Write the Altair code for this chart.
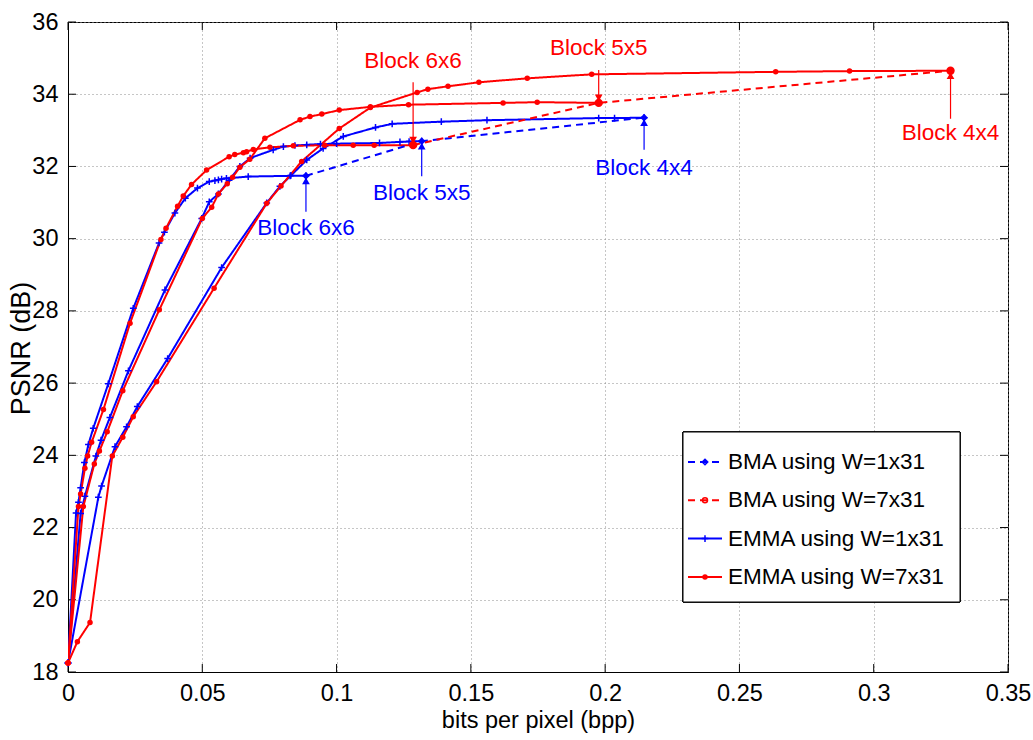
import altair as alt
import pandas as pd

FONT = "Liberation Sans, Arial, Helvetica"
BLUE = "#0000ff"
RED = "#ff0000"

S_BMA1 = "BMA using W=1x31"
S_BMA7 = "BMA using W=7x31"
S_EMMA1 = "EMMA using W=1x31"
S_EMMA7 = "EMMA using W=7x31"
SERIES = [S_BMA1, S_BMA7, S_EMMA1, S_EMMA7]

x_ticks = [0, 0.05, 0.1, 0.15, 0.2, 0.25, 0.3, 0.35]
y_ticks = [18, 20, 22, 24, 26, 28, 30, 32, 34, 36]

# EMMA, window 1x31
emma1_6x6_bpp = [0, 0.0030, 0.0039, 0.0047, 0.0061, 0.0076, 0.0094, 0.0150, 0.0243, 0.0339, 0.0359,
                 0.0398, 0.0437, 0.0482, 0.0526, 0.0547, 0.0560, 0.0572, 0.0590, 0.0671, 0.0827, 0.0886]
emma1_6x6_psnr = [18.25, 22.40, 22.70, 23.10, 23.80, 24.30, 24.75, 25.98, 28.07, 29.88, 30.18,
                  30.71, 31.12, 31.40, 31.58, 31.61, 31.63, 31.65, 31.67, 31.72, 31.74, 31.74]

emma1_5x5_bpp = [0, 0.0047, 0.0063, 0.0104, 0.0123, 0.0156, 0.0225, 0.0361, 0.0498, 0.0526, 0.0560, 0.0600,
                 0.0640, 0.0678, 0.0764, 0.0802, 0.0845, 0.0889, 0.0940, 0.1000, 0.1160, 0.1236, 0.1270, 0.1317]
emma1_5x5_psnr = [18.25, 22.39, 22.87, 23.98, 24.42, 25.05, 26.34, 28.58, 30.56, 31.02, 31.24, 31.62,
                  32.00, 32.23, 32.46, 32.55, 32.58, 32.60, 32.62, 32.63, 32.65, 32.68, 32.69, 32.70]

emma1_4x4_bpp = [0, 0.0113, 0.0125, 0.0175, 0.0218, 0.0258, 0.0371, 0.0572, 0.0740, 0.0789, 0.0830,
                 0.0889, 0.0950, 0.1025, 0.1145, 0.1207, 0.1390, 0.1560, 0.1976, 0.2035, 0.2145]
emma1_4x4_psnr = [18.25, 22.84, 23.15, 24.24, 24.79, 25.35, 26.68, 29.20, 30.99, 31.45, 31.75,
                  32.18, 32.50, 32.83, 33.08, 33.18, 33.24, 33.28, 33.34, 33.34, 33.35]

# EMMA, window 7x31
emma7_6x6_bpp = [0, 0.0039, 0.0047, 0.0063, 0.0073, 0.0088, 0.0132, 0.0231, 0.0346, 0.0365, 0.0408, 0.0429,
                 0.0460, 0.0516, 0.0600, 0.0621, 0.0653, 0.0665, 0.0690, 0.0752, 0.0839, 0.0956, 0.1062,
                 0.1140, 0.1285]
emma7_6x6_psnr = [18.25, 22.58, 22.93, 23.64, 23.98, 24.36, 25.27, 27.66, 29.98, 30.29, 30.90, 31.18,
                  31.50, 31.90, 32.27, 32.33, 32.38, 32.41, 32.47, 32.53, 32.57, 32.59, 32.59,
                  32.59, 32.59]

emma7_5x5_bpp = [0, 0.0057, 0.0098, 0.0117, 0.0146, 0.0204, 0.0340, 0.0500, 0.0535, 0.0560, 0.0593, 0.0613,
                 0.0640, 0.0677, 0.0733, 0.0864, 0.0901, 0.0945, 0.1010, 0.1126, 0.1268, 0.1620, 0.1747, 0.1976]
emma7_5x5_psnr = [18.25, 22.58, 23.76, 24.12, 24.65, 25.79, 28.03, 30.56, 30.87, 31.24, 31.52, 31.70,
                  31.98, 32.20, 32.78, 33.29, 33.38, 33.45, 33.56, 33.65, 33.71, 33.76, 33.78, 33.76]

emma7_4x4_bpp = [0, 0.0035, 0.0082, 0.0165, 0.0204, 0.0243, 0.0330, 0.0544, 0.0740, 0.0793, 0.0870,
                 0.1010, 0.1126, 0.1300, 0.1340, 0.1415, 0.1530, 0.1710, 0.1950, 0.2635, 0.2910, 0.3286]
emma7_4x4_psnr = [18.25, 18.84, 19.37, 23.98, 24.50, 25.07, 26.04, 28.63, 30.98, 31.46, 32.14,
                  33.05, 33.63, 34.05, 34.14, 34.22, 34.33, 34.44, 34.55, 34.62, 34.64, 34.65]

# BMA, one point per block size (6x6, 5x5, 4x4)
block_labels = ["Block 6x6", "Block 5x5", "Block 4x4"]
bma1_bpp = [0.0886, 0.1317, 0.2145]
bma1_psnr = [31.74, 32.70, 33.35]
bma7_bpp = [0.1285, 0.1976, 0.3286]
bma7_psnr = [32.59, 33.76, 34.65]

W, H = 940, 650
X_DOM = [0, 0.35]
Y_DOM = [18, 36]
PX_PER_DB = H / (Y_DOM[1] - Y_DOM[0])

curves = [
    (S_EMMA1, "e1_6", emma1_6x6_bpp, emma1_6x6_psnr),
    (S_EMMA1, "e1_5", emma1_5x5_bpp, emma1_5x5_psnr),
    (S_EMMA1, "e1_4", emma1_4x4_bpp, emma1_4x4_psnr),
    (S_EMMA7, "e7_6", emma7_6x6_bpp, emma7_6x6_psnr),
    (S_EMMA7, "e7_5", emma7_5x5_bpp, emma7_5x5_psnr),
    (S_EMMA7, "e7_4", emma7_4x4_bpp, emma7_4x4_psnr),
    (S_BMA1, "b1", bma1_bpp, bma1_psnr),
    (S_BMA7, "b7", bma7_bpp, bma7_psnr),
]
rows = []
for series, cid, xs, ys in curves:
    for i, (bx, py) in enumerate(zip(xs, ys)):
        rows.append({"series": series, "curve": cid, "idx": i, "bpp": bx, "psnr": py})
df = pd.DataFrame(rows)

# annotation layout: (text offset, arrow tail offset) in pixels below the point
ann_offsets = {
    ("b1", 0): (52, 36), ("b1", 1): (52, 35), ("b1", 2): (50, 32),
    ("b7", 0): (-84, -63), ("b7", 1): (-55, -33), ("b7", 2): (62, 48),
}
ann_rows = []
for cid, color, xs, ys in [("b1", BLUE, bma1_bpp, bma1_psnr), ("b7", RED, bma7_bpp, bma7_psnr)]:
    for i, lab in enumerate(block_labels):
        t_off, a_off = ann_offsets[(cid, i)]
        ann_rows.append({
            "label": lab, "color": color, "bpp": xs[i], "psnr": ys[i],
            "ytext": ys[i] - t_off / PX_PER_DB,
            "ytail": ys[i] - a_off / PX_PER_DB,
            "dir": "up" if a_off > 0 else "down",
        })
ann = pd.DataFrame(ann_rows)

x_enc = alt.X("bpp:Q", scale=alt.Scale(domain=X_DOM, nice=False, zero=False),
              axis=alt.Axis(values=x_ticks, format="~g", title="bits per pixel (bpp)",
                            labelFlush=False, labelOverlap=False, labelPadding=9, titlePadding=4))
y_enc = alt.Y("psnr:Q", scale=alt.Scale(domain=Y_DOM, nice=False, zero=False),
              axis=alt.Axis(values=y_ticks, format="d", title="PSNR (dB)",
                            labelOverlap=False, labelPadding=10, titleFontSize=27,
                            titleAngle=270, titleX=-47, titleY=326,
                            titleAlign="center", titleBaseline="middle"))

series_color = alt.Color("series:N", scale=alt.Scale(domain=SERIES, range=[BLUE, RED, BLUE, RED]), legend=None)
series_dash = alt.StrokeDash("series:N", scale=alt.Scale(domain=SERIES, range=[[7, 5], [7, 5], [1, 0], [1, 0]]),
                             legend=None)

lines = alt.Chart(df).mark_line(strokeWidth=2, clip=True).encode(
    x=x_enc, y=y_enc, color=series_color, strokeDash=series_dash,
    detail="curve:N", order="idx:Q",
)

plus_path = "M-1,0L1,0M0,-1L0,1"
blue_marks = alt.Chart(df).transform_filter(alt.datum.series == S_EMMA1).mark_point(
    shape=plus_path, size=45, filled=False, strokeWidth=1.5, color=BLUE, opacity=1).encode(x=x_enc, y=y_enc)
red_marks = alt.Chart(df).transform_filter(alt.datum.series == S_EMMA7).mark_circle(
    size=30, color=RED, opacity=1).encode(x=x_enc, y=y_enc)
bma1_marks = alt.Chart(df).transform_filter(alt.datum.series == S_BMA1).mark_point(
    shape="diamond", size=60, filled=True, color=BLUE, opacity=1).encode(x=x_enc, y=y_enc)
bma7_marks = alt.Chart(df).transform_filter(alt.datum.series == S_BMA7).mark_circle(
    size=70, color=RED, opacity=1).encode(x=x_enc, y=y_enc)

arrows = alt.Chart(ann).mark_rule(strokeWidth=1.2).encode(
    x=x_enc, y=y_enc, y2="ytail:Q", color=alt.Color("color:N", scale=None))
heads_up = alt.Chart(ann).transform_filter(alt.datum.dir == "up").mark_point(
    shape="triangle-up", size=60, filled=True, opacity=1, yOffset=5).encode(
    x=x_enc, y=y_enc, color=alt.Color("color:N", scale=None))
heads_down = alt.Chart(ann).transform_filter(alt.datum.dir == "down").mark_point(
    shape="triangle-down", size=60, filled=True, opacity=1, yOffset=-5).encode(
    x=x_enc, y=y_enc, color=alt.Color("color:N", scale=None))
texts = alt.Chart(ann).mark_text(fontSize=22.5, font=FONT, baseline="middle", align="center").encode(
    x=x_enc, y=alt.Y("ytext:Q", scale=alt.Scale(domain=Y_DOM, nice=False, zero=False)),
    text="label:N", color=alt.Color("color:N", scale=None))

# inward tick marks on all four sides of the box
xt = pd.DataFrame({"bpp": x_ticks})
yt = pd.DataFrame({"psnr": y_ticks})
tick_len = 8
xt_bottom = alt.Chart(xt).mark_rule(color="black").encode(x=x_enc, y=alt.value(H), y2=alt.value(H - tick_len))
xt_top = alt.Chart(xt).mark_rule(color="black").encode(x=x_enc, y=alt.value(0), y2=alt.value(tick_len))
yt_left = alt.Chart(yt).mark_rule(color="black").encode(y=y_enc, x=alt.value(0), x2=alt.value(tick_len))
yt_right = alt.Chart(yt).mark_rule(color="black").encode(y=y_enc, x=alt.value(W), x2=alt.value(W - tick_len))

# legend box in the lower right, one row per series
LEG_X0, LEG_X1, LEG_Y0, LEG_Y1 = 615, 892, 410, 580
ROW0, ROW_STEP = 440, 38.3
SYM_X0, SYM_X1, SYM_MID, TXT_X = 620, 654, 637, 660
leg = pd.DataFrame({"series": SERIES, "row": range(len(SERIES))})
leg["ly"] = ROW0 + ROW_STEP * leg["row"]
ly_enc = alt.Y("ly:Q", scale=None)

leg_box = alt.Chart(leg).mark_rect(fill="white", stroke="black", strokeWidth=1).encode(
    x=alt.value(LEG_X0), x2=alt.value(LEG_X1), y=alt.value(LEG_Y0), y2=alt.value(LEG_Y1))
leg_lines = alt.Chart(leg).mark_rule(strokeWidth=2).encode(
    x=alt.value(SYM_X0), x2=alt.value(SYM_X1), y=ly_enc, color=series_color, strokeDash=series_dash)
leg_m1 = alt.Chart(leg).transform_filter(alt.datum.series == S_BMA1).mark_point(
    shape="diamond", size=30, filled=False, strokeWidth=1.5, color=BLUE, opacity=1).encode(
    x=alt.value(SYM_MID), y=ly_enc)
leg_m2 = alt.Chart(leg).transform_filter(alt.datum.series == S_BMA7).mark_point(
    shape="circle", size=25, filled=False, strokeWidth=1.5, color=RED, opacity=1).encode(
    x=alt.value(SYM_MID), y=ly_enc)
leg_m3 = alt.Chart(leg).transform_filter(alt.datum.series == S_EMMA1).mark_point(
    shape=plus_path, size=45, filled=False, strokeWidth=1.5, color=BLUE, opacity=1).encode(
    x=alt.value(SYM_MID), y=ly_enc)
leg_m4 = alt.Chart(leg).transform_filter(alt.datum.series == S_EMMA7).mark_circle(
    size=30, color=RED, opacity=1).encode(x=alt.value(SYM_MID), y=ly_enc)
leg_text = alt.Chart(leg).mark_text(fontSize=22.5, font=FONT, align="left", baseline="middle",
                                    color="black").encode(
    x=alt.value(TXT_X), y=ly_enc, text="series:N")

chart = alt.layer(
    xt_bottom, xt_top, yt_left, yt_right,
    lines, blue_marks, red_marks, bma1_marks, bma7_marks,
    arrows, heads_up, heads_down, texts,
    leg_box, leg_lines, leg_m1, leg_m2, leg_m3, leg_m4, leg_text,
).properties(
    width=W, height=H,
    autosize=alt.AutoSizeParams(type="none"),
    padding={"left": 68, "top": 22, "right": 25, "bottom": 68},
    background="white",
).configure_view(
    stroke="black", strokeWidth=1
).configure_axis(
    labelFont=FONT, titleFont=FONT, labelFontSize=23.5, titleFontSize=23.5,
    labelColor="black", titleColor="black", titleFontWeight="normal",
    domainColor="black", tickSize=0,
    grid=True, gridColor="#8c8c8c", gridDash=[1, 3], gridWidth=1,
)

chart.save("out.html", embed_options={"renderer": "svg", "actions": False})
